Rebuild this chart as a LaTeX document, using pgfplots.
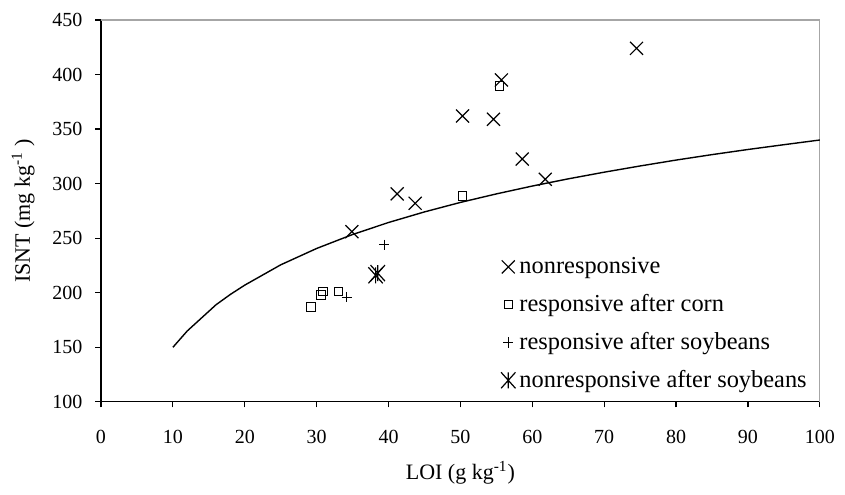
\documentclass[border=0pt]{standalone}
\usepackage{fontspec}
\setmainfont{Liberation Serif}
\usepackage{pgfplots}
\pgfplotsset{compat=1.18}
\pgfdeclareplotmark{xbar}{%
  \pgfpathmoveto{\pgfpoint{-.9\pgfplotmarksize}{-\pgfplotmarksize}}%
  \pgfpathlineto{\pgfpoint{.9\pgfplotmarksize}{\pgfplotmarksize}}%
  \pgfpathmoveto{\pgfpoint{-.9\pgfplotmarksize}{\pgfplotmarksize}}%
  \pgfpathlineto{\pgfpoint{.9\pgfplotmarksize}{-\pgfplotmarksize}}%
  \pgfpathmoveto{\pgfpoint{0pt}{-\pgfplotmarksize}}%
  \pgfpathlineto{\pgfpoint{0pt}{\pgfplotmarksize}}%
  \pgfusepathqstroke}
\begin{document}
\begin{tikzpicture}
\begin{axis}[
  scale only axis,
  width=359.5pt, height=191pt,
  xmin=0, xmax=100, ymin=100, ymax=450,
  xtick={0,10,...,100}, ytick={100,150,...,450},
  axis lines=left,
  axis line style={-, line width=0.6pt},
  tick style={black, line width=0.6pt},
  tick align=outside, major tick length=2.8pt,
  clip=false,
  font=\fontsize{10}{12}\selectfont,
  /pgf/number format/assume math mode=true,
  xticklabel style={yshift=-8pt},
  yticklabel style={xshift=-3pt},
  xlabel={LOI (g kg\textsuperscript{-1})},
  ylabel={ISNT (mg kg\textsuperscript{-1} )},
  label style={font=\fontsize{11}{13}\selectfont},
  xlabel style={yshift=-2pt},
  ylabel style={yshift=2pt},
  legend style={at={(axis description cs:0.556,0.39)}, anchor=north west,
    draw=none, fill=none, font=\fontsize{12.2}{14}\selectfont,
    row sep=4.9pt, inner sep=0pt},
  legend cell align=left,
  legend image code/.code={\draw[#1] plot coordinates {(0.22cm,0cm)};},
]
\draw[gray!70, line width=0.6pt] (rel axis cs:0,1) -- (rel axis cs:1,1) -- (rel axis cs:1,0);
\addplot[only marks, mark=x, mark size=4.6pt, line width=0.6pt, black] coordinates {
(74.5,424) (55.7,395) (50.3,362) (54.6,359) (58.6,322.5) (61.8,304) (41.2,290.6) (43.7,282) (34.9,256)};
\addlegendentry{nonresponsive}
\addplot[only marks, mark=square, mark size=2.1pt, line width=0.5pt, black] coordinates {
(55.4,389.5) (50.3,288.7) (29.2,187) (30.6,198) (30.9,201) (33.0,201)};
\addlegendentry{responsive after corn}
\addplot[only marks, mark=+, mark size=2.6pt, line width=0.5pt, black] coordinates {
(34.2,196) (39.4,244)};
\addlegendentry{responsive after soybeans}
\addplot[only marks, mark=xbar, mark size=4pt, line width=0.6pt, black] coordinates {
(38.2,216) (38.5,218)};
\addlegendentry{nonresponsive after soybeans}
\addplot[black, line width=0.7pt, forget plot] coordinates {
(10,150) (12,165) (14,177) (16,189) (18,198.5) (20,207) (25,225.6) (30,240.6)
(35,253.4) (40,264.4) (45,274.1) (50,282.8) (55,290.6) (60,297.8) (65,304.4)
(70,310.5) (75,316.2) (80,321.6) (85,326.6) (90,331.3) (95,335.7) (100,340)};
\path (axis cs:-14.05,14.8) rectangle (axis cs:103.5,468.3);
\end{axis}
\end{tikzpicture}
\end{document}
